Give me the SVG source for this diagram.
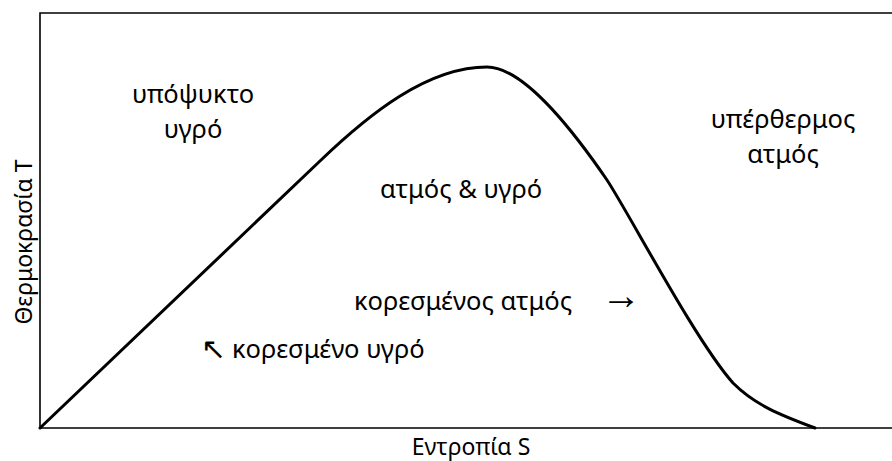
<svg xmlns="http://www.w3.org/2000/svg" width="892" height="461" viewBox="0 0 892 461">
<style>
  .frame { fill: none; stroke: #000; stroke-width: 1.6; }
  .curve { fill: none; stroke: #000; stroke-width: 3; stroke-linejoin: round; stroke-linecap: round; }
  text { font-family: "Noto Sans", "DejaVu Sans", sans-serif; fill: #000; }
  .lbl { font-size: 25.5px; text-anchor: middle; }
  .axis { font-size: 23px; text-anchor: middle; }
  .arr { font-family: "Noto Sans", sans-serif; font-size: 40px; }
  .arr2 { font-family: "DejaVu Sans", sans-serif; font-size: 30px; }
</style>
<rect width="892" height="461" fill="#fff"/>
<g id="axes">
  <path class="frame" d="M900,13 L40,13 L40,428 L900,428"/>
</g>
<g id="connectors">
  <path id="saturation-curve" class="curve" d="M40,428 L320,161 C370,113 428,67 487,67 C523,67 570,126 607,180 C630,215 695,340 733,383 C755,405 780,415 815,428"/>
</g>
<g id="subcooled">
  <text class="lbl" x="193" y="103">υπόψυκτο</text>
  <text class="lbl" x="193" y="138">υγρό</text>
</g>
<g id="superheated">
  <text class="lbl" x="783" y="128">υπέρθερμος</text>
  <text class="lbl" x="783" y="163">ατμός</text>
</g>
<g id="mixture">
  <text class="lbl" x="461" y="198">ατμός &amp; υγρό</text>
</g>
<g id="saturated-vapor">
  <text class="lbl" x="463" y="310">κορεσμένος ατμός</text>
  <text class="arr" x="601" y="309">→</text>
</g>
<g id="saturated-liquid">
  <text x="201" y="359" style="font-size:25.5px"><tspan class="arr2">↖</tspan><tspan x="232" y="358">κορεσμένο υγρό</tspan></text>
</g>
<g id="x-axis-label">
  <text class="axis" x="471" y="455">Εντροπία S</text>
</g>
<g id="y-axis-label">
  <text class="axis" transform="translate(32,242) rotate(-90)">Θερμοκρασία T</text>
</g>
</svg>
